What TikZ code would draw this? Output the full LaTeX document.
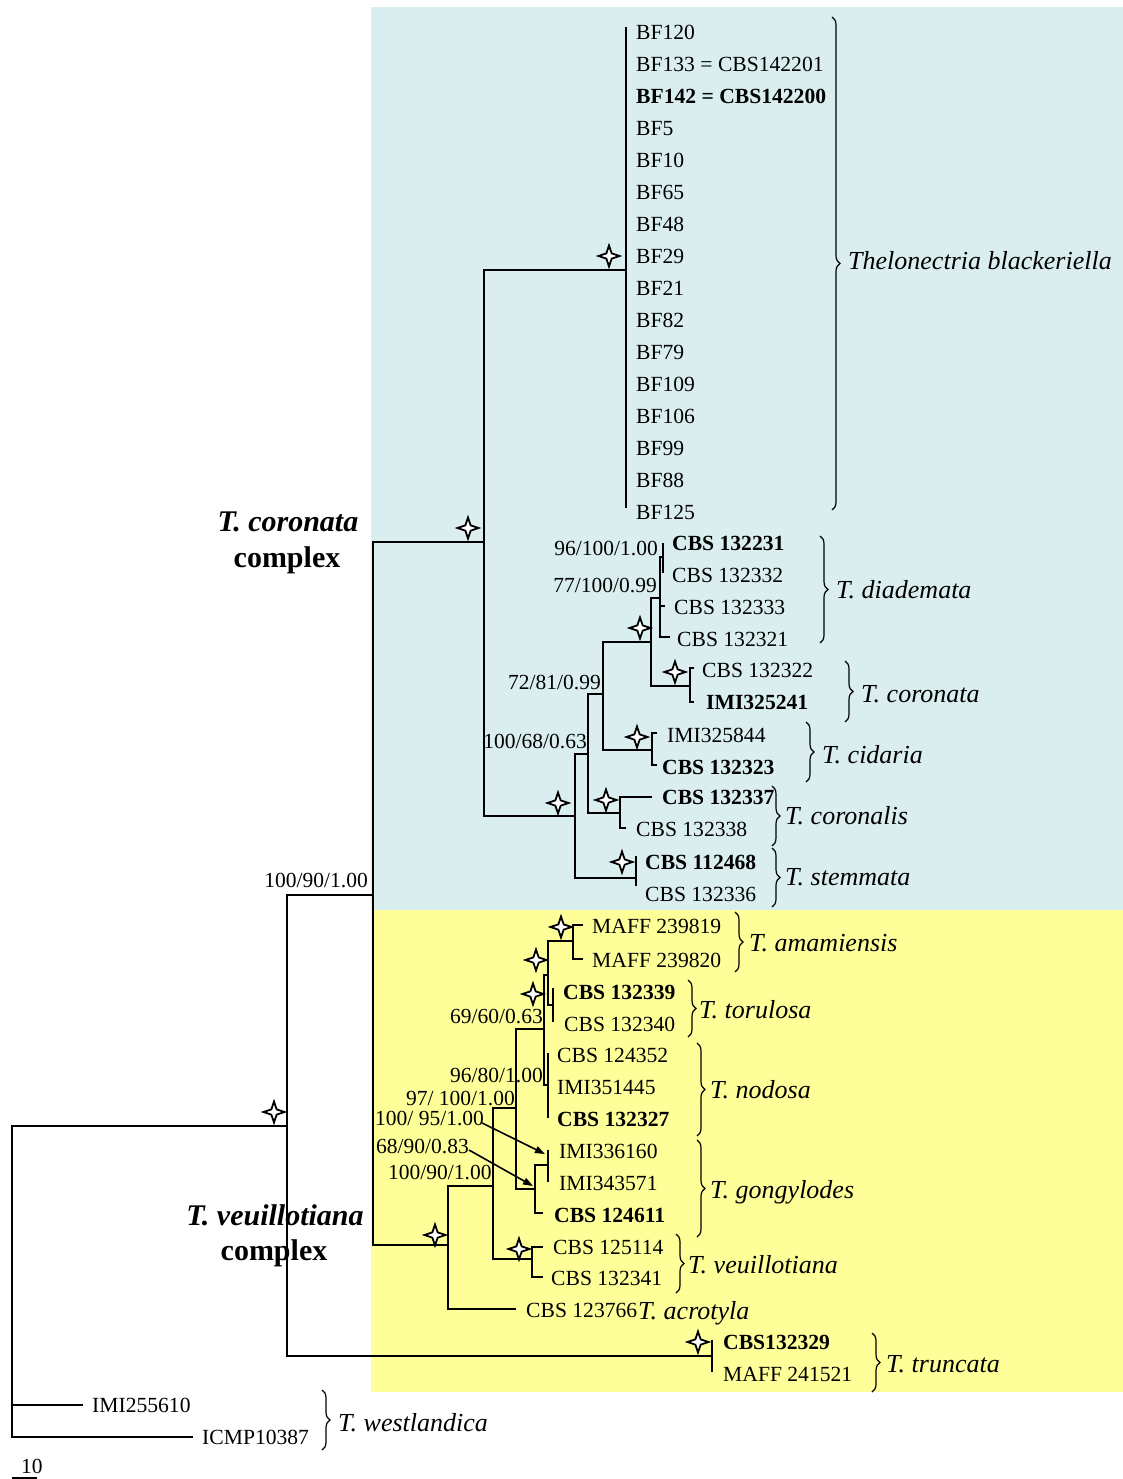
\documentclass[tikz,border=0pt]{standalone}
\usepackage{fontspec}
\setmainfont{Liberation Serif}
\usetikzlibrary{shapes.geometric,decorations.pathreplacing,arrows.meta}
\newcommand\fstrain{\fontsize{21.6}{26}\selectfont}
\newcommand\fsupp{\fontsize{21.5}{26}\selectfont}
\newcommand\fspec{\fontsize{26}{31}\selectfont\itshape}
\newcommand\fbigl{\fontsize{30}{36}\selectfont\bfseries}
\definecolor{bluebg}{HTML}{DAEEF0}
\definecolor{yellowbg}{HTML}{FFFF99}
\begin{document}
\begin{tikzpicture}[x=1pt,y=-1pt,
  tree/.style={line width=2pt,line join=miter},
  tip/.style={anchor=west,inner sep=0pt,font=\fstrain,text height=14.3pt,text depth=0pt},
  supp/.style={anchor=east,inner sep=0pt,font=\fsupp,text height=14.2pt,text depth=0pt},
  suppw/.style={anchor=west,inner sep=0pt,font=\fsupp,text height=14.2pt,text depth=0pt},
  spec/.style={anchor=west,inner sep=0pt,font=\fspec,text height=17.2pt,text depth=0pt},
  big/.style={inner sep=0pt,font=\fbigl},
  brc/.style={decorate,decoration={brace,amplitude=8pt},line width=1.2pt},
  star4/.style={shape=star,star points=4,star point ratio=2.8,minimum size=21pt,inner sep=0pt,draw,fill=white,line width=1.8pt},
  arr/.style={line width=1.6pt,-{Triangle[length=10pt,width=7pt]}}
]
\useasboundingbox (0,0) rectangle (1123,1479);
\fill[bluebg] (371,7) rectangle (1123,910);
\fill[yellowbg] (371,910) rectangle (1123,1392);

% ---------- tree: outgroup and backbone
\draw[tree] (287,1126) -- (12,1126) -- (12,1437) -- (193,1437);
\draw[tree] (12,1405) -- (83,1405);
\draw[tree] (373,895) -- (287,895) -- (287,1356) -- (712,1356);
\draw[tree] (712,1340) -- (712,1372);
\draw[tree] (484,542) -- (373,542) -- (373,1245) -- (448,1245);
% ---------- coronata complex
\draw[tree] (626,270) -- (484,270) -- (484,816) -- (575,816);
\draw[tree] (626,27) -- (626,508);
\draw[tree] (588,754) -- (575,754) -- (575,878) -- (636,878);
\draw[tree] (636,856) -- (636,886);
\draw[tree] (603,694) -- (588,694) -- (588,813) -- (620,813);
\draw[tree] (652,797) -- (620,797) -- (620,828) -- (626,828);
\draw[tree] (651,642) -- (603,642) -- (603,750) -- (652,750);
\draw[tree] (657,733) -- (652,733) -- (652,765) -- (657,765);
\draw[tree] (660,598) -- (651,598) -- (651,686) -- (690,686);
\draw[tree] (694,668) -- (690,668) -- (690,702) -- (694,702);
\draw[tree] (663,557) -- (660,557) -- (660,637) -- (670,637);
\draw[tree] (660,606) -- (665,606);
\draw[tree] (663,543) -- (663,573);
% ---------- veuillotiana complex
\draw[tree] (493,1186) -- (448,1186) -- (448,1309) -- (516,1309);
\draw[tree] (516,1108) -- (493,1108) -- (493,1259) -- (532,1259);
\draw[tree] (543,1247) -- (532,1247) -- (532,1277) -- (543,1277);
\draw[tree] (544,1029) -- (516,1029) -- (516,1189) -- (535,1189);
\draw[tree] (548,1165) -- (535,1165) -- (535,1213) -- (543,1213);
\draw[tree] (548,1150) -- (548,1182);
\draw[tree] (548,975) -- (544,975) -- (544,1085) -- (548,1085);
\draw[tree] (548,1053) -- (548,1118);
\draw[tree] (573,941) -- (548,941) -- (548,1005) -- (553,1005);
\draw[tree] (583,925) -- (573,925) -- (573,959) -- (583,959);
\draw[tree] (553,988) -- (553,1022);

% ---------- stars
\foreach \p [count=\i] in {(609,256),(468,528),(640,628),(675,672),(637,737),(558,803),(606,800),(622,862),(561,927),(536,960),(533,994),(519,1249),(435,1235),(274,1112),(698,1342)}
  \node[star4] (s\i) at \p {};

% ---------- BF tips
\foreach \t [count=\i from 0] in {BF120,BF133 = CBS142201,\textbf{BF142 = CBS142200},BF5,BF10,BF65,BF48,BF29,BF21,BF82,BF79,BF109,BF106,BF99,BF88,BF125}
  \node[tip] (bf\i) at (636,32+32*\i) {\t};

% ---------- other tips
\node[tip] (t1) at (672,543) {\textbf{CBS 132231}};
\node[tip] (t2) at (672,575) {CBS 132332};
\node[tip] (t3) at (674,607) {CBS 132333};
\node[tip] (t4) at (677,639) {CBS 132321};
\node[tip] (t5) at (702,670) {CBS 132322};
\node[tip] (t6) at (706,702) {\textbf{IMI325241}};
\node[tip] (t7) at (667,735) {IMI325844};
\node[tip] (t8) at (662,767) {\textbf{CBS 132323}};
\node[tip] (t9) at (662,797) {\textbf{CBS 132337}};
\node[tip] (t10) at (636,829) {CBS 132338};
\node[tip] (t11) at (645,862) {\textbf{CBS 112468}};
\node[tip] (t12) at (645,894) {CBS 132336};
\node[tip] (t13) at (592,926) {MAFF 239819};
\node[tip] (t14) at (592,960) {MAFF 239820};
\node[tip] (t15) at (563,992) {\textbf{CBS 132339}};
\node[tip] (t16) at (564,1024) {CBS 132340};
\node[tip] (t17) at (557,1055) {CBS 124352};
\node[tip] (t18) at (557,1087) {IMI351445};
\node[tip] (t19) at (557,1119) {\textbf{CBS 132327}};
\node[tip] (t20) at (559,1151) {IMI336160};
\node[tip] (t21) at (559,1183) {IMI343571};
\node[tip] (t22) at (554,1215) {\textbf{CBS 124611}};
\node[tip] (t23) at (553,1247) {CBS 125114};
\node[tip] (t24) at (551,1278) {CBS 132341};
\node[tip] (t25) at (526,1310) {CBS 123766};
\node[tip] (t26) at (723,1342) {\textbf{CBS132329}};
\node[tip] (t27) at (723,1374) {MAFF 241521};
\node[tip] (t28) at (92,1405) {IMI255610};
\node[tip] (t29) at (202,1437) {ICMP10387};

% ---------- support values
\node[supp] (b1) at (368,880) {100/90/1.00};
\node[supp] (b2) at (658,548) {96/100/1.00};
\node[supp] (b3) at (657,585) {77/100/0.99};
\node[supp] (b4) at (601,682) {72/81/0.99};
\node[supp] (b5) at (587,741) {100/68/0.63};
\node[supp] (b6) at (543,1016) {69/60/0.63};
\node[supp] (b7) at (543,1075) {96/80/1.00};
\node[supp] (b8) at (515,1098) {97/ 100/1.00};
\node[suppw] (b9) at (375,1118) {100/ 95/1.00};
\node[suppw] (b10) at (376,1146) {68/90/0.83};
\node[suppw] (b11) at (388,1172) {100/90/1.00};
\coordinate (a1) at (545,1154);
\coordinate (a2) at (533,1186);
\draw[arr] (b9.east) ++(-2,5) -- (a1);
\draw[arr] (b10.east) ++(0,4) -- (a2);

% ---------- braces and species names
\draw[brc] (832,17) -- (832,510);
\node[spec] (n1) at (848,261) {Thelonectria blackeriella};
\draw[brc] (820,536) -- (820,643);
\node[spec] (n2) at (836,590) {T. diademata};
\draw[brc] (845,661) -- (845,722);
\node[spec] (n3) at (861,694) {T. coronata};
\draw[brc] (806,722) -- (806,782);
\node[spec] (n4) at (822,755) {T. cidaria};
\draw[brc] (772,786) -- (772,846);
\node[spec] (n5) at (785,816) {T. coronalis};
\draw[brc] (772,848) -- (772,907);
\node[spec] (n6) at (785,877) {T. stemmata};
\draw[brc] (735,912) -- (735,972);
\node[spec] (n7) at (749,943) {T. amamiensis};
\draw[brc] (688,980) -- (688,1037);
\node[spec] (n8) at (699,1010) {T. torulosa};
\draw[brc] (697,1043) -- (697,1136);
\node[spec] (n9) at (710,1090) {T. nodosa};
\draw[brc] (697,1140) -- (697,1237);
\node[spec] (n10) at (710,1190) {T. gongylodes};
\draw[brc] (676,1234) -- (676,1293);
\node[spec] (n11) at (688,1265) {T. veuillotiana};
\node[spec] (n12) at (638,1311) {T. acrotyla};
\draw[brc] (872,1333) -- (872,1392);
\node[spec] (n13) at (886,1364) {T. truncata};
\draw[brc] (322,1390) -- (322,1450);
\node[spec] (n14) at (338,1423) {T. westlandica};

% ---------- complex labels
\node[big] (c1) at (288,522) {\itshape T. coronata};
\node[big] (c2) at (287,560) {complex};
\node[big] (c3) at (275,1215) {\itshape T. veuillotiana};
\node[big] (c4) at (274,1253) {complex};

% ---------- scale bar
\coordinate (sb1) at (12,1478);
\coordinate (sb2) at (37,1478);
\draw[line width=1.5pt] (sb1) -- (sb2);
\node[tip,font=\fsupp] (sb) at (21,1466) {10};
\end{tikzpicture}
\end{document}
